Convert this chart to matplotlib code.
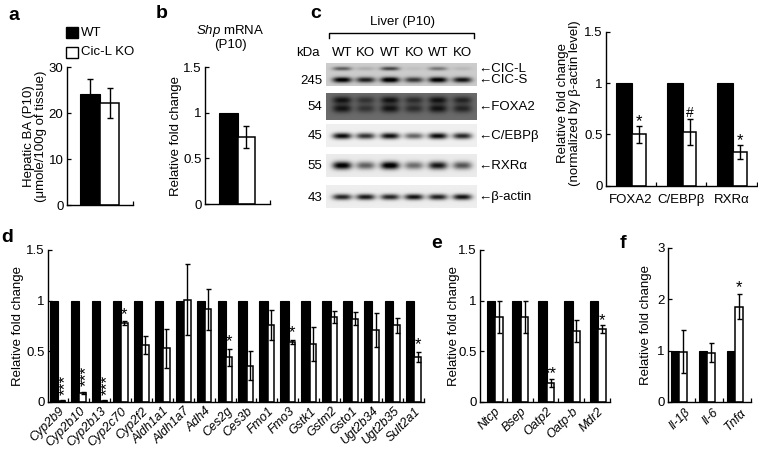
import numpy as np
import matplotlib
matplotlib.use("Agg")
import matplotlib.pyplot as plt
from matplotlib.patches import Rectangle
from matplotlib.ticker import FormatStrFormatter

plt.rcParams['font.family'] = ['Liberation Sans', 'DejaVu Sans']
plt.rcParams['mathtext.fontset'] = 'custom'
plt.rcParams['mathtext.rm'] = 'Liberation Sans'
plt.rcParams['mathtext.it'] = 'Liberation Sans:italic'
plt.rcParams['font.size'] = 9.5

W, H = 758, 453   # figure size in pixels (dpi 100)

# ---------------- data ----------------
# a: hepatic bile acids (P10)
ba_groups = ['WT', 'Cic-L KO']
ba_mean = [24.2, 22.2]
ba_err = [3.2, 3.3]

# b: Shp mRNA, KO relative to WT
shp_ko = [0.73]
shp_ko_err = [0.12]

# c: western blot, band intensity per lane (0 = nothing, 1 = saturated)
lanes = ['WT', 'KO', 'WT', 'KO', 'WT', 'KO']
cicl_band = [0.45, 0.12, 0.55, 0.05, 0.35, 0.08]
cics_band = [0.85, 0.70, 0.90, 0.60, 0.85, 0.75]
foxa2_band = [0.35, 0.22, 0.35, 0.25, 0.35, 0.28]
cebpb_band = [0.92, 0.75, 0.90, 0.55, 0.92, 0.80]
rxra_band = [0.97, 0.55, 1.00, 0.50, 0.85, 0.60]
bactin_band = [0.80, 0.85, 0.80, 0.88, 0.82, 0.88]
mw_kda = ['245', '54', '45', '55', '43']
band_names = ['CIC-L', 'CIC-S', 'FOXA2', 'C/EBPβ', 'RXRα', 'β-actin']

# c: quantification (normalized by beta-actin)
prot_labels = ['FOXA2', 'C/EBPβ', 'RXRα']
prot_ko = [0.50, 0.52, 0.33]
prot_ko_err = [0.085, 0.125, 0.07]
prot_sig = ['*', '#', '*']

# d: drug metabolism genes
genes_d = ['Cyp2b9', 'Cyp2b10', 'Cyp2b13', 'Cyp2c70', 'Cyp2f2', 'Aldh1a1',
           'Aldh1a7', 'Adh4', 'Ces2g', 'Ces3b', 'Fmo1', 'Fmo3', 'Gstk1',
           'Gstm2', 'Gsto1', 'Ugt2b34', 'Ugt2b35', 'Sult2a1']
ko_d = [0.01, 0.09, 0.01, 0.775, 0.56, 0.53, 1.01, 0.915, 0.44, 0.36,
        0.76, 0.595, 0.57, 0.84, 0.82, 0.71, 0.755, 0.44]
err_d = [0.005, 0.01, 0.005, 0.02, 0.09, 0.19, 0.35, 0.205, 0.08, 0.14,
         0.15, 0.02, 0.17, 0.06, 0.065, 0.17, 0.07, 0.05]
sig_d = ['***', '***', '***', '*', '', '', '', '', '*', '', '', '*', '', '',
         '', '', '', '*']

# e: transporters
genes_e = ['Ntcp', 'Bsep', 'Oatp2', 'Oatp-b', 'Mdr2']
ko_e = [0.84, 0.84, 0.19, 0.70, 0.72]
err_e = [0.155, 0.16, 0.04, 0.11, 0.035]
sig_e = ['', '', '**', '', '*']

# f: inflammatory cytokines
genes_f = ['Il-1β', 'Il-6', 'Tnfα']
ko_f = [0.98, 0.96, 1.86]
err_f = [0.42, 0.18, 0.25]
sig_f = ['', '', '*']


fig = plt.figure(figsize=(W / 100, H / 100), dpi=100)


def add_ax(l, t, r, b):
    # axes from pixel box (left, top, right, bottom)
    ax = fig.add_axes([l / W, 1 - b / H, (r - l) / W, (b - t) / H])
    for s in ['top', 'right']:
        ax.spines[s].set_visible(False)
    for s in ['left', 'bottom']:
        ax.spines[s].set_linewidth(1.0)
    ax.tick_params(direction='in', length=3, width=0.9, labelsize=9.5, pad=2.5)
    return ax


def bar_panel(box, wt, ko, ko_err, bw, ww, tick_frac, xleft, ylim, yticks,
              wt_err=None, sig=None, sig_pad=1, cap=2):
    ax = add_ax(*box)
    n = len(ko)
    x = np.arange(n)
    ax.bar(x, wt, bw, align='edge', color='black', edgecolor='black', linewidth=0.8)
    ax.bar(x + bw, ko, ww, align='edge', color='white', edgecolor='black', linewidth=1.1)
    if wt_err is not None:
        ax.errorbar(x + bw / 2, wt, yerr=wt_err, fmt='none', ecolor='black',
                    elinewidth=1, capsize=cap, capthick=1)
    ax.errorbar(x + bw + ww / 2, ko, yerr=ko_err, fmt='none', ecolor='black',
                elinewidth=1, capsize=cap, capthick=1)
    if sig is not None:
        for xi, v, e, s in zip(x + bw + ww / 2, ko, ko_err, sig):
            if not s:
                continue
            if s == '***':
                ax.annotate(s, (xi, v + e), xytext=(3, 4), textcoords='offset points',
                            rotation=90, ha='center', va='bottom', fontsize=12.5)
            elif s == '#':
                ax.annotate(s, (xi, v + e), xytext=(0, sig_pad + 2), textcoords='offset points',
                            ha='center', va='baseline', fontsize=10)
            else:
                ax.annotate(s, (xi, v + e), xytext=(0, sig_pad), textcoords='offset points',
                            ha='center', va='baseline', fontsize=12)
    ax.set_xlim(xleft, n - 1 + tick_frac + 0.002)
    ax.set_xticks(x + tick_frac)
    ax.set_xticklabels([])
    ax.set_ylim(*ylim)
    ax.set_yticks(yticks)
    ax.yaxis.set_major_formatter(FormatStrFormatter('%g'))
    return ax, x + (bw + ww) / 2


def ylabel_at(ax, box, xpx, text, ypx=None, ls=1.0):
    l, t, r, b = box
    yc = 0.5 if ypx is None else (b - ypx) / (b - t)
    ax.text((xpx - l) / (r - l), yc, text, rotation=90, ha='center', va='center',
            multialignment='center', transform=ax.transAxes, fontsize=9.5,
            linespacing=ls)


# ---------------- a ----------------
box_a = (67, 67, 132.7, 205)
ax_a, _ = bar_panel(box_a, [ba_mean[0]], [ba_mean[1]], [ba_err[1]], 1.0, 0.965,
                    2.635, -0.65, (0, 30), [0, 10, 20, 30], wt_err=[ba_err[0]], cap=2.5)
ylabel_at(ax_a, box_a, 35, 'Hepatic BA (P10)\n(μmole/100g of tissue)', ls=0.95)

# ---------------- b ----------------
box_b = (205, 67, 270, 204)
ax_b, _ = bar_panel(box_b, [1.0], shp_ko, shp_ko_err, 1.0, 0.895, 2.684, -0.737,
                    (0, 1.5), [0, 0.5, 1, 1.5], cap=2.5)
ylabel_at(ax_b, box_b, 176, 'Relative fold change')

# ---------------- c (quantification) ----------------
box_c = (606, 31.7, 757, 185.7)
ax_c, xc = bar_panel(box_c, np.ones(3), prot_ko, prot_ko_err, 0.317, 0.277, 0.79,
                     -0.198, (0, 1.5), [0, 0.5, 1, 1.5], sig=prot_sig, sig_pad=0, cap=2.5)
for xi, lab in zip(xc, prot_labels):
    ax_c.text(xi, -0.09, lab, transform=ax_c.get_xaxis_transform(), ha='center',
              va='center', fontsize=9.5)
ylabel_at(ax_c, box_c, 569, 'Relative fold change\n(normalized by β-actin level)',
          ypx=103, ls=1.0)

# ---------------- d ----------------
box_d = (48, 250, 424, 402)
ax_d, xd = bar_panel(box_d, np.ones(len(genes_d)), ko_d, err_d, 0.40, 0.31, 0.86,
                     -0.096, (0, 1.5), [0, 0.5, 1, 1.5], sig=sig_d, sig_pad=2, cap=1.8)
for xi, lab in zip(xd, genes_d):
    ax_d.text(xi + 0.05, -0.02, lab, transform=ax_d.get_xaxis_transform(), rotation=45,
              ha='right', va='top', rotation_mode='anchor', fontstyle='italic', fontsize=9)
ylabel_at(ax_d, box_d, 18, 'Relative fold change')

# ---------------- e ----------------
box_e = (480, 250, 610, 402)
ax_e, xe = bar_panel(box_e, np.ones(len(genes_e)), ko_e, err_e, 0.33, 0.29, 0.78,
                     -0.26, (0, 1.5), [0, 0.5, 1, 1.5], sig=sig_e, sig_pad=0.5, cap=1.8)
for xi, lab in zip(xe, genes_e):
    ax_e.text(xi, -0.02, lab, transform=ax_e.get_xaxis_transform(), rotation=45,
              ha='right', va='top', rotation_mode='anchor', fontstyle='italic', fontsize=9)
ylabel_at(ax_e, box_e, 454, 'Relative fold change')

# ---------------- f ----------------
box_f = (668, 248, 751, 402)
ax_f, xf = bar_panel(box_f, np.ones(len(genes_f)), ko_f, err_f, 0.28, 0.31, 0.86,
                     -0.107, (0, 3), [0, 1, 2, 3], sig=sig_f, sig_pad=1, cap=1.8)
for xi, lab in zip(xf, genes_f):
    ax_f.text(xi + 0.2, -0.03, lab, transform=ax_f.get_xaxis_transform(), rotation=45,
              ha='right', va='top', rotation_mode='anchor', fontstyle='italic', fontsize=9)
ylabel_at(ax_f, box_f, 646, 'Relative fold change')

# ---------------- overlay: blot, legend, panel letters ----------------
ov = fig.add_axes([0, 0, 1, 1])
ov.axis('off')

lane_x = [342, 365.5, 390, 414, 438, 462.5]
blot_l, blot_r = 326, 477
strips = [
    (63, 86, 0.2, [(68.5, 1.4, cicl_band), (80, 2.0, cics_band)]),
    (93, 120, 0.58, [(100, 2.6, foxa2_band), (108.5, 3.0, foxa2_band)]),
    (124, 147, 0.06, [(136, 2.2, cebpb_band)]),
    (154, 177, 0.08, [(165.5, 2.8, rxra_band)]),
    (185, 208, 0.07, [(197, 2.1, bactin_band)]),
]
for top, bot, bg, bands in strips:
    xs = np.linspace(blot_l, blot_r, 302)
    ys = np.linspace(top, bot, int((bot - top) * 2))
    X, Y = np.meshgrid(xs, ys)
    img = np.full(X.shape, bg)
    for yc, sg, vals in bands:
        for lx, v in zip(lane_x, vals):
            img += v * np.exp(-np.abs((X - lx) / 9.5) ** 3) * np.exp(-0.5 * ((Y - yc) / sg) ** 2)
    ov.imshow(np.clip(img, 0, 1), cmap='gray_r', vmin=0, vmax=1,
              extent=(blot_l, blot_r, bot, top), aspect='auto', interpolation='bilinear')

ov.set_xlim(0, W)
ov.set_ylim(H, 0)

ov.text(402, 22, 'Liver (P10)', ha='center', va='center', fontsize=9.5)
ov.plot([329, 329, 474, 474], [38, 33, 33, 38], color='black', lw=1)
ov.text(308, 53, 'kDa', ha='center', va='center', fontsize=9.5)
for lx, lab in zip(lane_x, lanes):
    ov.text(lx, 53, lab, ha='center', va='center', fontsize=9.5)
for yy, lab in zip([81, 107, 136, 166, 198], mw_kda):
    ov.text(322, yy, lab, ha='right', va='center', fontsize=9.5)
for yy, lab in zip([69, 80, 107, 136, 166, 197], band_names):
    ov.text(478, yy, '←' + lab, ha='left', va='center', fontsize=9.5)

# Shp title over panel b
ov.text(230, 37, '$\\mathit{Shp}$ mRNA\n(P10)', ha='center', va='center',
        fontsize=9.5, linespacing=0.95, multialignment='center')

# legend of panel a
ov.add_patch(Rectangle((66, 27), 12, 11, facecolor='black', edgecolor='black', lw=1))
ov.add_patch(Rectangle((66, 47), 12, 10.5, facecolor='white', edgecolor='black', lw=1))
ov.text(81, 33, ba_groups[0], ha='left', va='center', fontsize=9.5)
ov.text(81, 52, ba_groups[1], ha='left', va='center', fontsize=9.5)

for lab, (px, py) in zip('abcdef', [(14, 15), (162, 13), (316, 14), (7, 237), (437, 244), (623, 243)]):
    ov.text(px, py, lab, ha='center', va='center', fontsize=14, fontweight='bold')

fig.savefig('out.png', dpi=100)
